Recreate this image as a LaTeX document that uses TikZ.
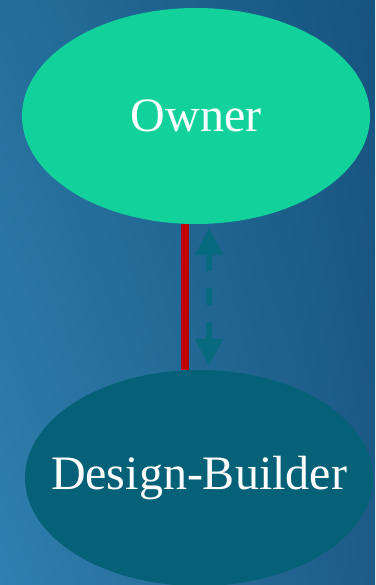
\documentclass[tikz,border=0pt]{standalone}
\usepackage{fontspec}
\setmainfont{Liberation Serif}
\usetikzlibrary{arrows.meta,positioning,shapes.geometric,shadings}
\definecolor{BgTL}{HTML}{256E9B}
\definecolor{BgTR}{HTML}{16547F}
\definecolor{BgBL}{HTML}{2F80AF}
\definecolor{BgBR}{HTML}{1E5B87}
\definecolor{Mint}{HTML}{12D19B}
\definecolor{Deep}{HTML}{056177}
\definecolor{Link}{HTML}{C00000}
\definecolor{Talk}{HTML}{086A7E}
\newcommand{\nowidth}[1]{\makebox[0pt]{#1}}
\tikzset{
  party/.style={ellipse,draw=none,minimum width=348pt,minimum height=216pt,inner sep=0pt,
    text=white,font=\fontsize{48}{56}\selectfont},
  contract/.style={draw=Link,line width=8pt},
  comm/.style={{Triangle[length=27pt,width=27pt]}-{Triangle[length=27pt,width=27pt]},
    draw=Talk,fill=Talk,line width=5.5pt,dash pattern=on 17pt off 17pt,
    shorten <=4pt,shorten >=4pt}
}
\begin{document}
\begin{tikzpicture}[x=1pt,y=-1pt]
  \shade[upper left=BgTL,upper right=BgTR,lower left=BgBL,lower right=BgBR]
    (0,0) rectangle (375,585);
  \useasboundingbox (0,0) rectangle (375,585);
  \node[party,fill=Mint] (owner) at (196,116) {\nowidth{Owner}};
  \node[party,fill=Deep] (builder) at (199,478) {\nowidth{Design-Builder}};
  \draw[contract] ([xshift=-11pt]owner.south) -- ([xshift=-14pt]builder.north);
  \draw[comm] ([xshift=13pt]owner.south) -- ([xshift=10pt]builder.north);
\end{tikzpicture}
\end{document}
